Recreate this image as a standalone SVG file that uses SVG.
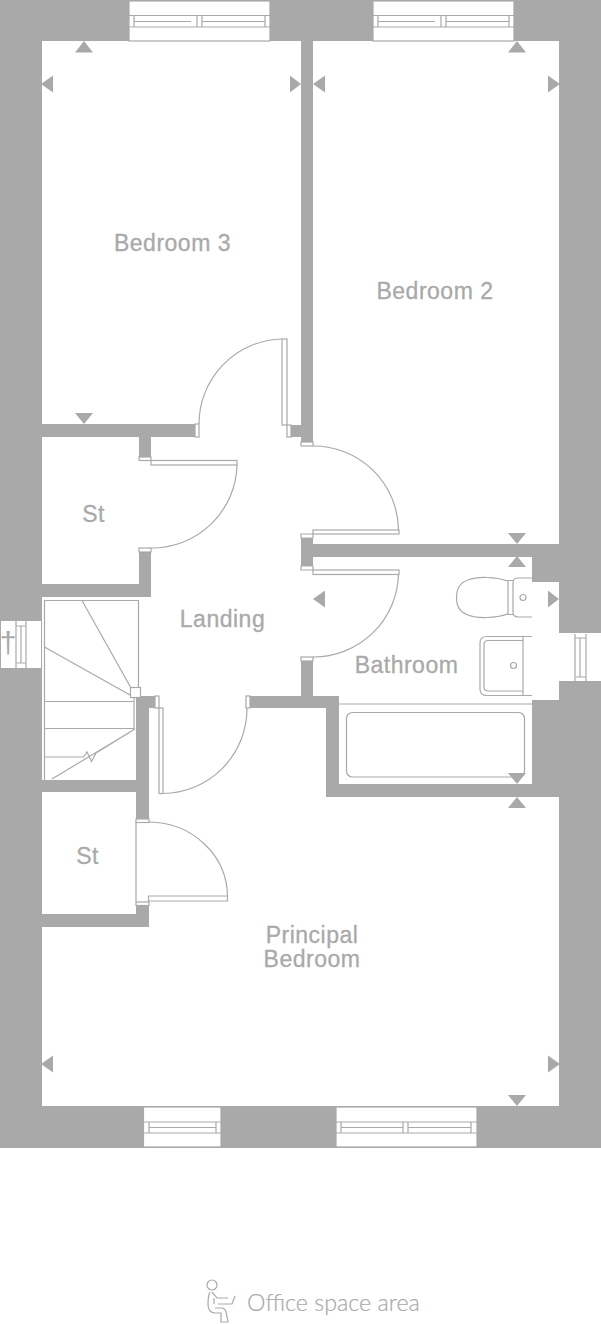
<svg xmlns="http://www.w3.org/2000/svg" width="601" height="1324" viewBox="0 0 601 1324">
<style>
.w{fill:#a9a9a9;stroke:none}
.v{fill:#fff;stroke:none}
.l{fill:none;stroke:#a9a9a9;stroke-width:1.2}
.f{fill:#fff;stroke:#a9a9a9;stroke-width:1.2}
.t{font-family:"Liberation Sans",Arial,sans-serif;font-size:23px;letter-spacing:.5px;fill:#a9a9a9;stroke:#a9a9a9;stroke-width:.3;text-anchor:middle}
.o{font-family:Lato,"Open Sans",sans-serif;font-weight:300;font-size:23.300px;fill:#a9a9a9;stroke:#a9a9a9;stroke-width:.2}
</style>
<defs>
<g id="win2"><rect class="f" x="0" y="0" width="141" height="40"/><path class="l" d="M0 14.500H141M0 26H141M5 20.500H62M73 20.500H136M5 14.500V26M68 14.500V26M73 14.500V26M136 14.500V26"/></g>
</defs>
<rect width="601" height="1324" fill="#fff"/>
<g id="walls">
<rect class="w" x="0" y="0" width="601" height="1148"/>
<rect class="v" x="42" y="41" width="517" height="1065"/>
<rect class="w" x="301" y="41" width="12" height="401"/>
<rect class="w" x="291" y="425" width="10" height="12"/>
<rect class="w" x="42" y="424" width="153" height="13"/>
<rect class="w" x="139" y="437" width="12" height="20"/>
<rect class="w" x="139" y="552" width="12" height="45"/>
<rect class="w" x="42" y="584" width="97" height="13"/>
<rect class="w" x="301" y="538" width="12" height="28"/>
<rect class="w" x="313" y="544" width="246" height="13"/>
<rect class="w" x="532" y="557" width="27" height="25"/>
<rect class="w" x="301" y="661" width="12" height="35"/>
<rect class="w" x="250" y="696" width="89" height="12"/>
<rect class="w" x="326" y="708" width="13" height="89"/>
<rect class="w" x="339" y="784" width="220" height="13"/>
<rect class="w" x="532" y="700" width="27" height="84"/>
<rect class="w" x="136" y="696" width="13" height="123"/>
<rect class="w" x="149" y="696" width="6" height="12"/>
<rect class="w" x="42" y="780" width="94" height="12"/>
<rect class="w" x="136" y="905" width="13" height="22"/>
<rect class="w" x="42" y="914" width="94" height="13"/>
<rect class="v" x="559" y="633" width="42" height="48"/>
</g>
<g id="windows">
<use href="#win2" x="129" y="1"/>
<use href="#win2" x="373" y="1"/>
<g id="window-bottom-1"><rect class="f" x="143.500" y="1107" width="77.500" height="40"/><path class="l" d="M143.500 1122H221M143.500 1133H221M149 1127.500H216M149 1122V1133M216 1122V1133"/></g>
<g id="window-bottom-2"><rect class="f" x="336" y="1107" width="141" height="40"/><path class="l" d="M336 1122H477M336 1133H477M341 1127.500H403M408 1127.500H471M341 1122V1133M403 1122V1133M408 1122V1133M471 1122V1133"/></g>
<g id="window-left"><rect class="v" x="1" y="621" width="40" height="47"/><path class="l" d="M16 621V668M26 621V668M21 626V663M16 626H26M16 663H26"/></g>
<g id="window-right"><path class="l" d="M575 634V681M586 634V681M580 638V677M575 638H586M575 677H586"/></g>
</g>
<g id="doors">
<g id="door-bedroom3"><rect class="f" x="195" y="424" width="4" height="13"/><rect class="f" x="282" y="339" width="5" height="86"/><rect class="f" x="287" y="425" width="4" height="12"/><path class="l" d="M199 424A85 85 0 0 1 282 339"/></g>
<g id="door-bedroom2"><rect class="f" x="301" y="442" width="12" height="4"/><rect class="f" x="313" y="530" width="86" height="4"/><path class="l" d="M313 446A85 85 0 0 1 398.500 530M301 534H313V538H301Z"/></g>
<g id="door-bathroom"><rect class="f" x="313" y="570" width="86" height="4.500"/><path class="l" d="M398.500 574.500A85 85 0 0 1 313 657M301 566H313V570H301Z"/><rect class="f" x="301" y="657" width="12" height="4"/></g>
<g id="door-st-upper"><rect class="f" x="139" y="457" width="12" height="3.500"/><rect class="f" x="151" y="460.500" width="86" height="4.500"/><path class="l" d="M237 465A85 85 0 0 1 151 548"/><rect class="f" x="139" y="548" width="12" height="4"/></g>
<g id="door-principal"><rect class="f" x="155" y="696" width="4" height="12"/><rect class="f" x="159" y="708" width="4" height="85.500"/><path class="l" d="M247 708A85 85 0 0 1 163 793.500"/><rect class="f" x="246" y="696" width="4" height="12"/></g>
<g id="door-st-lower"><rect class="f" x="136" y="819" width="13" height="3.500"/><rect class="f" x="136" y="902" width="13" height="3.500"/><path class="l" d="M136 822V902M149 822A79 75 0 0 1 227.500 896M148.500 902V896H227.500V901H149"/></g>
</g>
<g id="stairs">
<path class="l" d="M44.500 780V600.500H138.500V688M82 600.500L131 688M44.500 647L130 695M44.500 701.500H133.500M44.500 728.500H134.500M134 697V728.500M44.500 757H83.500L87 752L91.500 761.500L96 753L135 729L52 779"/>
<rect class="f" x="130.500" y="687.500" width="10" height="10"/>
</g>
<g id="fixtures">
<g id="wc"><path class="l" d="M532 578H518Q513 578 513 583V612Q513 617 518 617H532M513 580.500H508V614.500H513M508 581C496 577 478 576 468 580C459 583 456.500 590 456.500 597.500C456.500 605 459 612 468 615C478 619 496 618 508 614"/><circle class="l" cx="523" cy="597.500" r="3"/></g>
<g id="basin"><path class="l" d="M532 636.500H487Q480 636.500 480 643V689Q480 695.500 487 695.500H532M523 636.500V695.500M523 640.500H488Q484 640.500 484 644.500V687Q484 691 488 691H523"/><circle class="l" cx="513.500" cy="665.500" r="3"/></g>
<g id="bath"><path class="l" d="M339 704H532"/><rect class="l" x="346.500" y="712.500" width="178" height="64.500" rx="6"/></g>
</g>
<g id="markers" fill="#a9a9a9">
<path d="M84 41L93 52.500H75Z"/><path d="M41 84L53 75.500V92.500Z"/><path d="M301 84L290 75.500V92.500Z"/><path d="M84 424L75 413H93Z"/>
<path d="M313 84L325 75.500V92.500Z"/><path d="M560 84L548 75.500V92.500Z"/><path d="M517 41L526 52.500H508Z"/><path d="M517 544L508 533H526Z"/>
<path d="M517 556L526 567H508Z"/><path d="M559 599L548 590.500V607.500Z"/><path d="M313 599L325 590.500V607.500Z"/><path d="M517 784L508 773H526Z"/>
<path d="M517 797L526 808H508Z"/><path d="M41 1064L53 1055.500V1072.500Z"/><path d="M560 1064L548 1055.500V1072.500Z"/><path d="M517 1106L508 1095H526Z"/>
</g>
<g id="labels">
<g id="bedroom3"><text class="t" x="172.500" y="250.500">Bedroom 3</text></g>
<g id="bedroom2"><text class="t" x="435" y="298.500">Bedroom 2</text></g>
<g id="st-upper"><text class="t" x="93.500" y="521.500">St</text></g>
<g id="landing"><text class="t" x="222.500" y="626.500">Landing</text></g>
<g id="bathroom"><text class="t" x="406.500" y="672.500">Bathroom</text></g>
<g id="st-lower"><text class="t" x="87.500" y="863.500">St</text></g>
<g id="principal"><text class="t" x="312" y="942.500">Principal</text><text class="t" x="312" y="966.500">Bedroom</text></g>
<g id="dagger"><text x="8" y="653" font-family="Liberation Sans,sans-serif" font-size="30" fill="#a9a9a9" text-anchor="middle">†</text></g>
</g>
<g id="legend">
<circle class="l" cx="212" cy="1285" r="5"/>
<path class="l" d="M210 1292Q208 1296 208 1304Q208 1313 215 1313H221V1322H228L226 1312Q225 1308 221 1308H215M212 1292L217 1298H228M214 1298V1304M218 1304H232L235 1296"/>
<text class="o" x="247" y="1311">Office space area</text>
</g>
</svg>
